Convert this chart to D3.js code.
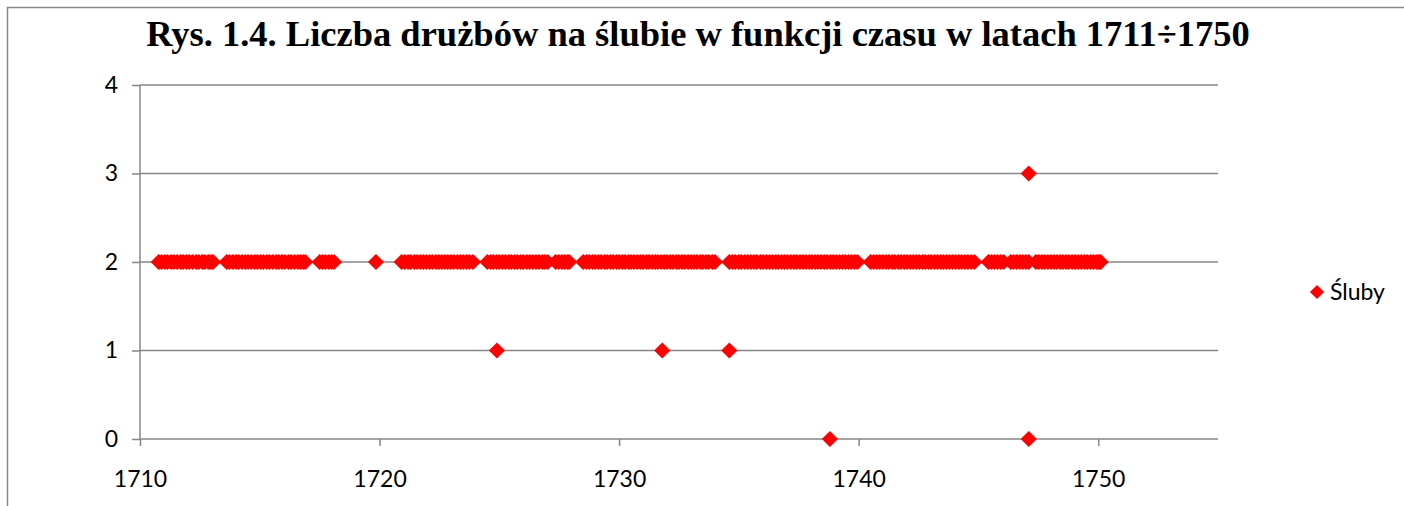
<!DOCTYPE html>
<html><head><meta charset="utf-8">
<script src="https://cdn.jsdelivr.net/npm/d3@7"></script>
<style>body{margin:0;background:#fff}svg{display:block}</style>
</head><body>
<svg id="c" width="1404" height="506"></svg>
<script>
const title = "Rys. 1.4. Liczba drużbów na ślubie w funkcji czasu w latach 1711÷1750";
const seriesName = "Śluby";
const xTicks = [1710, 1720, 1730, 1740, 1750];
const yTicks = [0, 1, 2, 3, 4];
// weddings with 2 groomsmen (year, fractional)
const years2 = [
 1710.78,1710.9,1711.04,1711.15,1711.3,1711.41,1711.55,1711.69,1711.8,1711.93,1712.05,1712.19,1712.34,1712.45,1712.6,1712.71,1712.85,1712.96,1713.05,
 1713.62,1713.74,1713.88,1714.01,1714.12,1714.26,1714.4,1714.51,1714.65,1714.79,1714.9,1715.03,1715.15,1715.3,1715.41,1715.55,1715.69,1715.8,1715.93,1716.05,1716.2,1716.31,1716.45,1716.59,1716.7,1716.81,1716.9,
 1717.5,1717.63,1717.75,1717.89,1718.0,1718.1,
 1719.85,
 1720.92,1721.05,1721.19,1721.3,1721.45,1721.57,1721.7,1721.83,1721.95,1722.09,1722.2,1722.35,1722.47,1722.6,1722.73,1722.85,1722.98,1723.1,1723.25,1723.37,1723.5,1723.63,1723.75,1723.9,
 1724.5,1724.63,1724.75,1724.89,1725.0,1725.13,1725.25,1725.39,1725.5,1725.63,1725.75,1725.88,1726.0,1726.15,1726.27,1726.4,1726.53,1726.65,1726.79,1726.9,1727.02,1727.35,1727.48,1727.61,1727.72,1727.85,1727.92,
 1728.5,1728.63,1728.75,1728.89,1729.0,1729.13,1729.25,1729.39,1729.5,1729.63,1729.75,1729.89,1730.0,1730.13,1730.25,1730.39,1730.5,1730.62,1730.76,1730.88,1731.0,1731.14,1731.25,1731.38,1731.51,1731.62,1731.76,1731.88,1732.0,1732.13,1732.25,1732.39,1732.5,1732.63,1732.75,1732.88,1733.01,1733.12,1733.25,1733.39,1733.5,1733.63,1733.75,1733.89,1734.0,
 1734.6,1734.73,1734.85,1734.99,1735.1,1735.24,1735.37,1735.5,1735.63,1735.75,1735.9,1736.02,1736.15,1736.28,1736.4,1736.54,1736.65,1736.79,1736.91,1737.03,1737.17,1737.3,1737.42,1737.55,1737.68,1737.8,1737.94,1738.05,1738.19,1738.3,1738.43,1738.56,1738.68,1738.82,1738.94,1739.06,1739.2,1739.32,1739.45,1739.58,1739.7,1739.83,1739.95,
 1740.5,1740.63,1740.76,1740.88,1741.01,1741.14,1741.26,1741.4,1741.51,1741.65,1741.77,1741.9,1742.02,1742.15,1742.28,1742.4,1742.53,1742.66,1742.78,1742.91,1743.03,1743.17,1743.29,1743.42,1743.54,1743.67,1743.8,1743.92,1744.05,1744.18,1744.3,1744.44,1744.56,1744.7,1744.83,
 1745.42,1745.55,1745.67,1745.8,1745.93,1746.05,1746.35,1746.47,1746.6,1746.73,1746.85,1746.98,1747.1,1747.4,1747.52,1747.65,1747.77,1747.9,1748.03,1748.15,1748.28,1748.41,1748.53,1748.66,1748.78,1748.91,1749.04,1749.16,1749.29,1749.42,1749.54,1749.67,1749.8,1749.92,1750.02,1750.1
];
const otherYears = [1724.9, 1731.8, 1734.6, 1738.8, 1747.1, 1747.1];
const otherCounts = [1, 1, 1, 0, 0, 3];

const points = years2.map(y => ({x: y, y: 2}))
  .concat(otherYears.map((y, i) => ({x: y, y: otherCounts[i]})));

const svg = d3.select("#c");
const grey = "#868686";
const red = "#ff0000";
const labelFont = "Lato, 'Open Sans', sans-serif";

svg.append("rect").attr("x", 7.5).attr("y", 7.5).attr("width", 1420).attr("height", 520)
  .attr("fill", "#fff").attr("stroke", grey).attr("stroke-width", 1.5);

const x = d3.scaleLinear().domain([1710, 1755]).range([140, 1218]);
const y = d3.scaleLinear().domain([0, 4]).range([439, 85]);

// gridlines
svg.append("g").selectAll("line").data(yTicks.filter(d => d > 0)).join("line")
  .attr("x1", x(1710)).attr("x2", x(1755))
  .attr("y1", d => y(d)).attr("y2", d => y(d))
  .attr("stroke", grey).attr("stroke-width", 1.5);

// y axis
const yAxis = svg.append("g").attr("transform", `translate(${x(1710)},0)`)
  .call(d3.axisLeft(y).tickValues(yTicks).tickSize(8).tickPadding(14).tickFormat(d3.format("d")));
// x axis
const xAxis = svg.append("g").attr("transform", `translate(0,${y(0)})`)
  .call(d3.axisBottom(x).tickValues(xTicks).tickSize(7).tickPadding(25).tickFormat(d3.format("d")));
[yAxis, xAxis].forEach(a => {
  a.select(".domain").attr("stroke", grey).attr("stroke-width", 1.5);
  a.selectAll(".tick line").attr("stroke", grey).attr("stroke-width", 1.5);
  a.selectAll("text").attr("fill", "#000").style("font-family", labelFont).style("font-size", "23px");
});
xAxis.select(".domain").attr("d", `M${x(1710)},0H${x(1755)}`);
yAxis.select(".domain").attr("d", `M0,${y(4)}V${y(0)}`);

// points
const diamond = d3.symbol(d3.symbolSquare).size(130);
svg.append("g").selectAll("path").data(points).join("path")
  .attr("d", diamond)
  .attr("transform", d => `translate(${x(d.x)},${y(d.y)}) rotate(45)`)
  .attr("fill", red);

// title
svg.append("text").attr("x", 698).attr("y", 46).attr("text-anchor", "middle")
  .style("font-family", "'Liberation Serif', 'Times New Roman', serif")
  .style("font-weight", "bold").style("font-size", "36.5px").text(title);

// legend
const lg = svg.append("g").attr("transform", "translate(1317,292)");
lg.append("path").attr("d", d3.symbol(d3.symbolSquare).size(100)).attr("transform", "rotate(45)").attr("fill", red);
lg.append("text").attr("x", 13).attr("y", 0).attr("dy", "0.36em")
  .style("font-family", labelFont).style("font-size", "23px").text(seriesName);
</script>
</body></html>
